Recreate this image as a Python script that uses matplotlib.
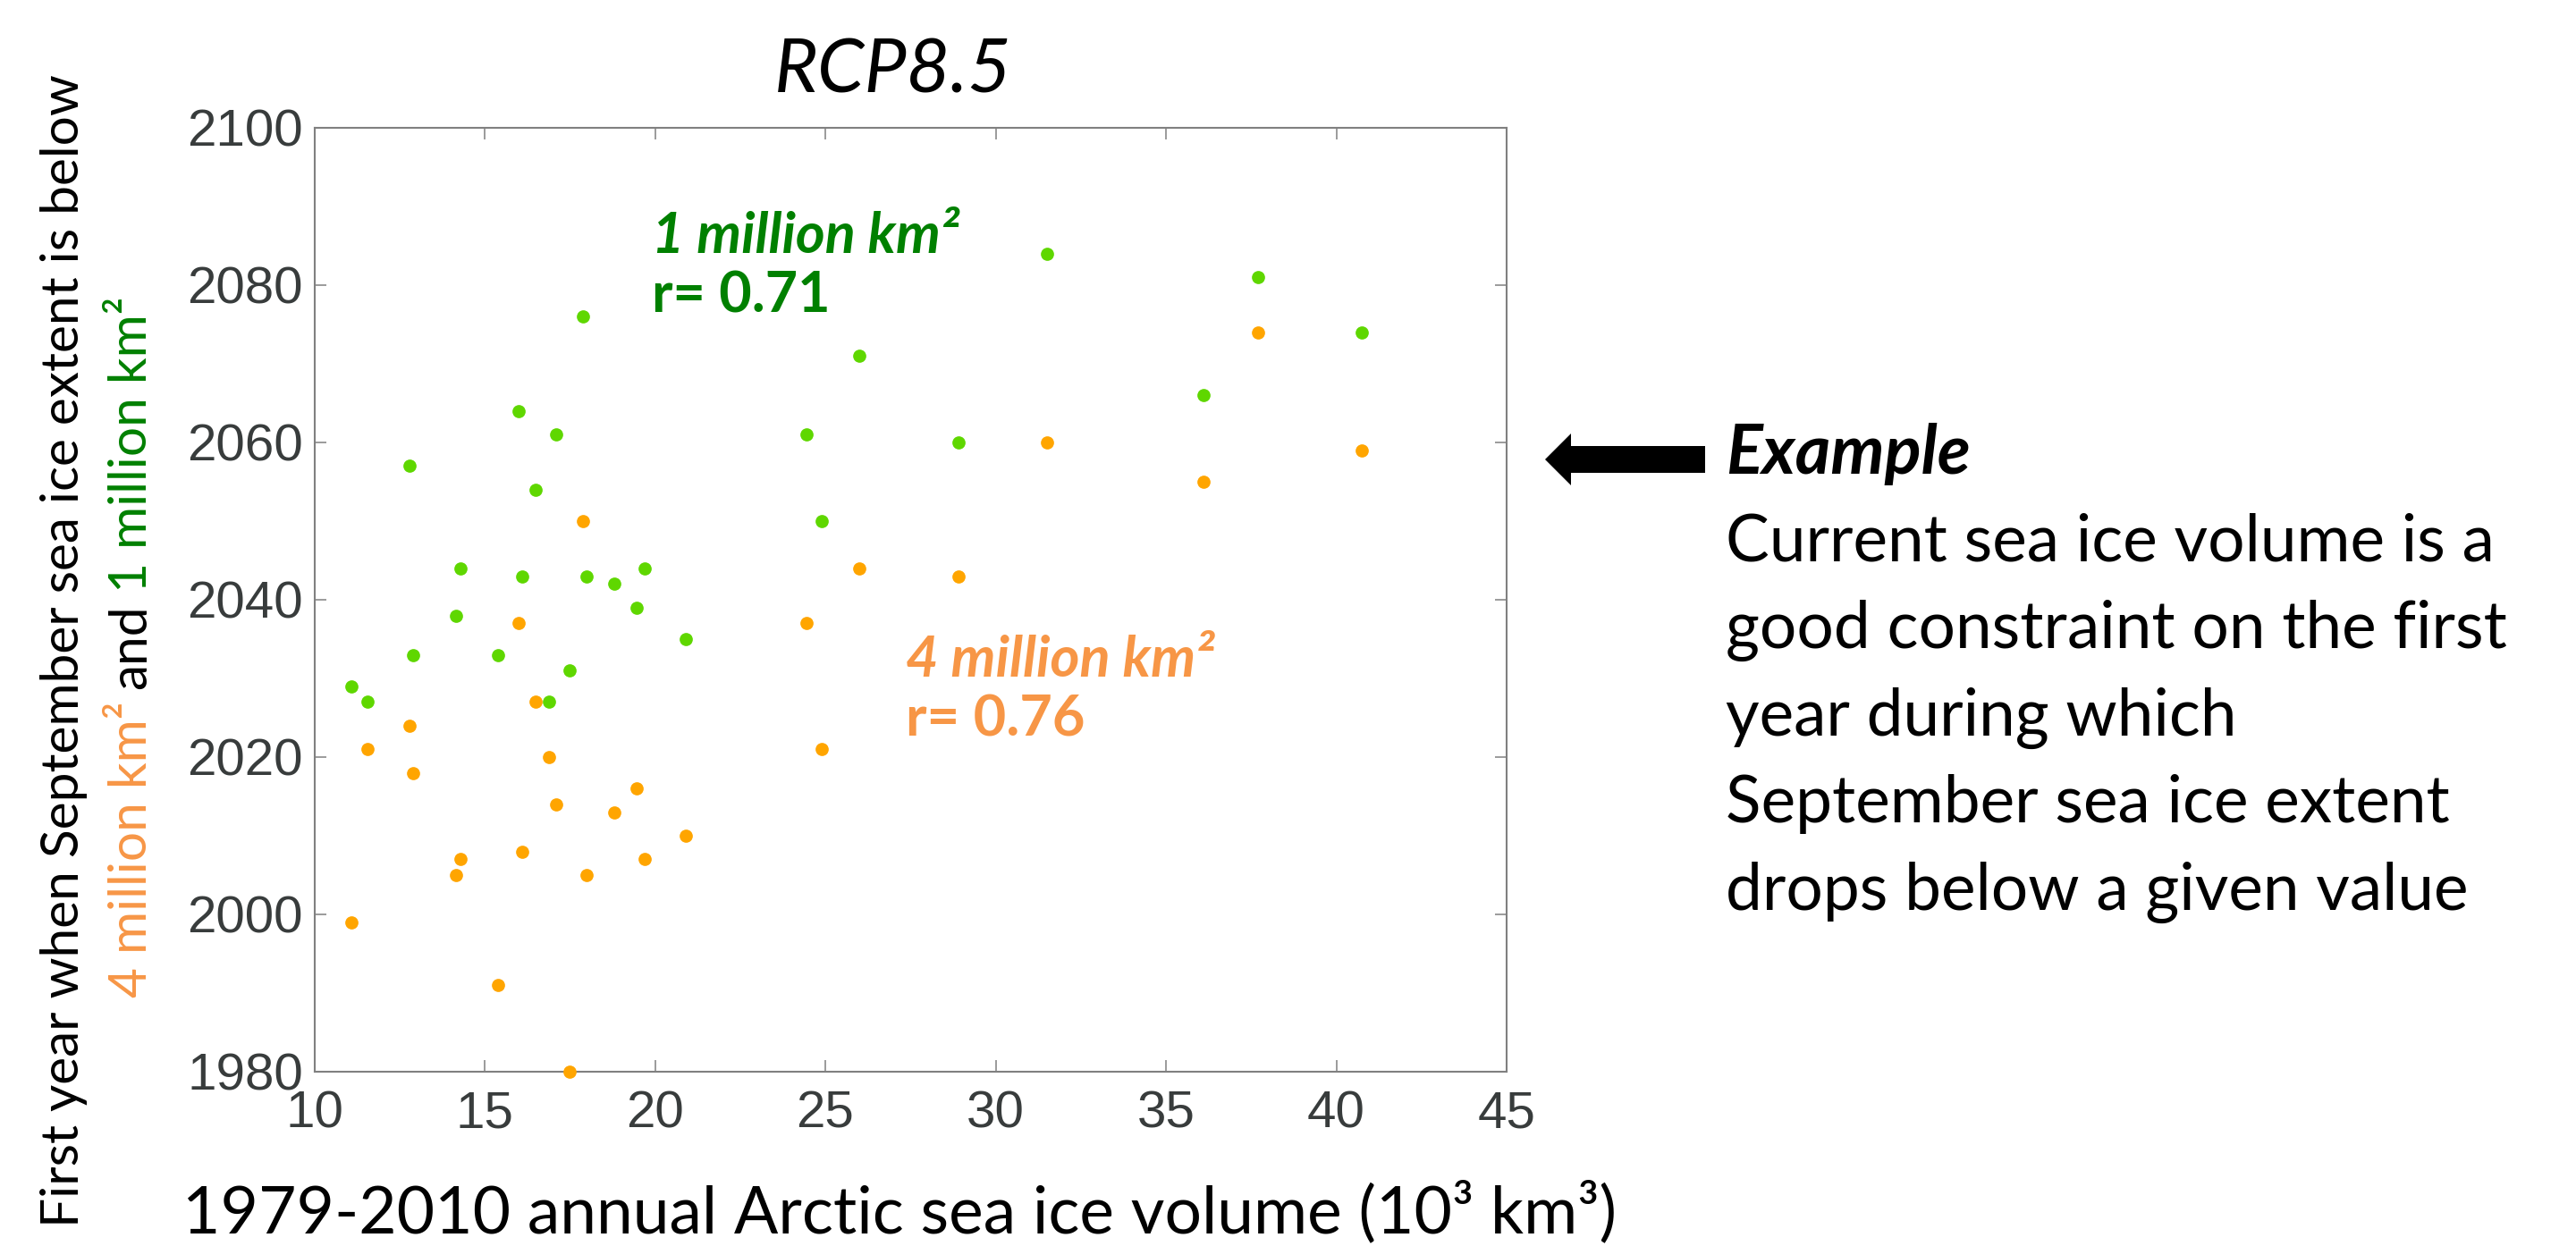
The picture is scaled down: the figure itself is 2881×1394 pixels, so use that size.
import matplotlib
matplotlib.use('Agg')
import matplotlib.pyplot as plt
from matplotlib.patches import FancyArrow

# ---------------- data ----------------
volume = [11.1, 11.55, 12.8, 12.9, 14.15, 14.3, 15.4, 16.0, 16.1, 16.5, 16.9, 17.1,
          17.5, 17.9, 18.0, 18.8, 19.45, 19.7, 20.9, 24.45, 24.9, 26.0, 28.9, 31.5,
          36.1, 37.7, 40.75]
year_1m = [2029, 2027, 2057, 2033, 2038, 2044, 2033, 2064, 2043, 2054, 2027, 2061,
           2031, 2076, 2043, 2042, 2039, 2044, 2035, 2061, 2050, 2071, 2060, 2084,
           2066, 2081, 2074]
year_4m = [1999, 2021, 2024, 2018, 2005, 2007, 1991, 2037, 2008, 2027, 2020, 2014,
           1980, 2050, 2005, 2013, 2016, 2007, 2010, 2037, 2021, 2044, 2043, 2060,
           2055, 2074, 2059]
x_ticks = [10, 15, 20, 25, 30, 35, 40, 45]
y_ticks = [1980, 2000, 2020, 2040, 2060, 2080, 2100]

title_txt = 'RCP8.5'
xlabel_txt = '1979-2010 annual Arctic sea ice volume (10³ km³)'
ylabel_line1 = 'First year when September sea ice extent is below'
ylabel_parts = ['4 million km²', 'and', '1 million km²']
ann_1m = ['1 million km²', 'r= 0.71']
ann_4m = ['4 million km²', 'r= 0.76']
example_head = 'Example'
example_lines = ['Current sea ice volume is a',
                 'good constraint on the first',
                 'year during which',
                 'September sea ice extent',
                 'drops below a given value']

# ---------------- style ----------------
GREEN_PT = '#5FD700'
ORANGE_PT = '#FFA500'
GREEN_TXT = '#008000'
ORANGE_TXT = '#F79646'
FRAME = '#808080'
TICKLAB = '#383c3c'
FONT = ['Lato', 'DejaVu Sans']

W, H = 2881, 1394
fig = plt.figure(figsize=(W / 100, H / 100), dpi=100)
fig.patch.set_facecolor('white')

def fx(px):
    return px / W

def fy(py):
    return 1 - py / H

ax = fig.add_axes([fx(351.5), fy(1199), (1685 - 351.5) / W, (1199 - 143) / H])
ax.scatter(volume, year_4m, s=112, c=ORANGE_PT, linewidths=0, clip_on=False, zorder=3)
ax.scatter(volume, year_1m, s=112, c=GREEN_PT, linewidths=0, clip_on=False, zorder=3)
ax.set_xlim(10, 45)
ax.set_ylim(1980, 2100)
ax.set_xticks(x_ticks)
ax.set_yticks(y_ticks)
ax.tick_params(direction='in', top=True, right=True, length=9.4, width=1.1,
               color=FRAME, labelsize=42, labelcolor=TICKLAB)
ax.tick_params(axis='x', pad=15)
ax.tick_params(axis='y', pad=9)
for lab in ax.get_xticklabels() + ax.get_yticklabels():
    lab.set_fontfamily(['Liberation Sans', 'DejaVu Sans'])
for sp in ax.spines.values():
    sp.set_color(FRAME)
    sp.set_linewidth(1.5)

# annotations in data coordinates
a1 = ax.text(19.9, 2084.1, ann_1m[0], color=GREEN_TXT, weight='bold', style='italic',
             family=FONT, fontsize=40, va='baseline', ha='left')
a2 = ax.text(19.9, 2076.5, ann_1m[1], color=GREEN_TXT, weight='bold',
             family=FONT, fontsize=40, va='baseline', ha='left')
a3 = ax.text(27.36, 2030.2, ann_4m[0], color=ORANGE_TXT, weight='bold', style='italic',
             family=FONT, fontsize=40, va='baseline', ha='left')
a4 = ax.text(27.36, 2022.7, ann_4m[1], color=ORANGE_TXT, weight='bold',
             family=FONT, fontsize=40, va='baseline', ha='left')

title = fig.text(fx(999), fy(104), title_txt, family=FONT, style='italic', fontsize=60,
                 ha='center', va='baseline')
xlab = fig.text(fx(1005.5), fy(1379), xlabel_txt, family=FONT, fontsize=50,
                ha='center', va='baseline')
yl1 = fig.text(fx(72), fy(728), ylabel_line1, family=FONT, fontsize=45, rotation=90,
               ha='center', va='center')
part_colors = [ORANGE_TXT, 'black', GREEN_TXT]
yparts = [fig.text(fx(147), 0.5, s, family=FONT, fontsize=45, rotation=90,
                   ha='center', va='bottom', color=c)
          for s, c in zip(ylabel_parts, part_colors)]

ex = fig.text(fx(1930), fy(530), example_head, family=FONT, weight='bold', style='italic',
              fontsize=50, ha='left', va='baseline')
baselines = [628, 725, 823, 920, 1018]
body = [fig.text(fx(1930), fy(b), s, family=FONT, fontsize=50, ha='left', va='baseline')
        for s, b in zip(example_lines, baselines)]

# arrow pointing left
arr = FancyArrow(fx(1907), fy(514), -(1907 - 1728) / W, 0, width=30 / H,
                 head_width=58 / H, head_length=29 / W, length_includes_head=True,
                 transform=fig.transFigure, color='black', linewidth=0)
fig.patches.append(arr)

# ---------------- fit text sizes to the layout ----------------
fig.canvas.draw()
r = fig.canvas.get_renderer()

def fit(t, target, use_height=False, others=()):
    for _ in range(2):
        bb = t.get_window_extent(renderer=r)
        cur = bb.height if use_height else bb.width
        f = t.get_fontsize() * target / cur
        t.set_fontsize(f)
    for o in others:
        o.set_fontsize(t.get_fontsize())

fit(title, 266)
fit(xlab, 1603)
fit(a1, 344, others=[a2])
fit(a3, 345, others=[a4])
fit(ex, 274)
fit(body[1], 873, others=[body[0]] + body[2:])
fit(yl1, 1289, use_height=True, others=yparts)

# stack the coloured second y-label line
fs_px = yl1.get_fontsize() * 100 / 72
gap = 0.23 * fs_px
heights = [t.get_window_extent(renderer=r).height for t in yparts]
total = sum(heights) + gap * (len(yparts) - 1)
center_disp = H - 724
cursor = center_disp - total / 2
for t, h in zip(yparts, heights):
    t.set_position((fx(147), cursor / H))
    cursor += h + gap

fig.savefig('out.png', dpi=100, facecolor='white')
